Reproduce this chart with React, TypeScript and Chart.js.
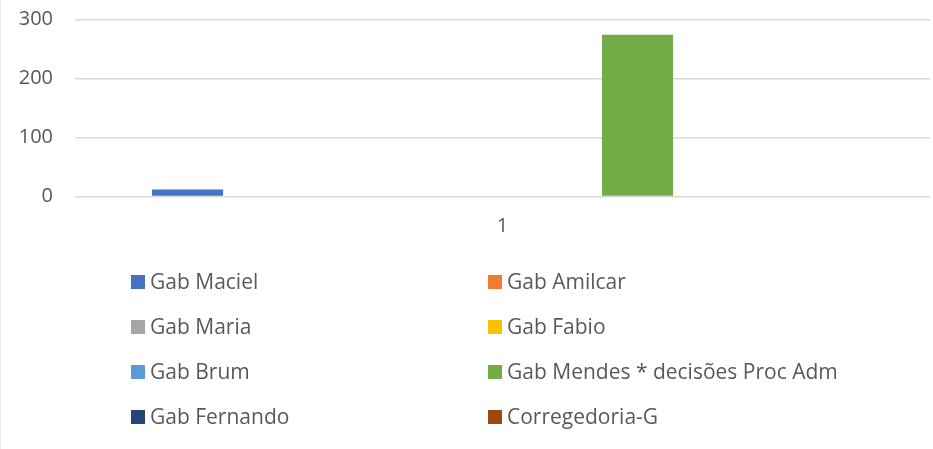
import React, { useEffect, useRef } from "react";
import { Chart, registerables } from "chart.js";

Chart.register(...registerables);

const categories = ["1"];
const seriesNames = [
  "Gab Maciel",
  "Gab Amilcar",
  "Gab Maria",
  "Gab Fabio",
  "Gab Brum",
  "Gab Mendes * decisões Proc Adm",
  "Gab Fernando",
  "Corregedoria-G",
];
const seriesValues = [12, 0, 0, 0, 0, 274, 0, 0];
const seriesColors = [
  "#4472C4",
  "#ED7D31",
  "#A5A5A5",
  "#FFC000",
  "#5B9BD5",
  "#70AD47",
  "#264478",
  "#9E480E",
];
const yTicks = [0, 100, 200, 300];

const FONT = "'Open Sans', 'Noto Sans', sans-serif";
const TEXT = "#595959";

const legendPlugin = {
  id: "gridLegend",
  afterDraw(chart: any) {
    const ctx = chart.ctx;
    ctx.save();
    // faint outer border on the left
    ctx.fillStyle = "#ececec";
    ctx.fillRect(0, 0, 1, chart.height);
    const colX = [131, 488];
    const rowY0 = 282;
    const rowGap = 45;
    const box = 14;
    ctx.font = `21px ${FONT}`;
    ctx.textBaseline = "middle";
    ctx.textAlign = "left";
    chart.data.datasets.forEach((ds: any, i: number) => {
      const col = i % 2;
      const row = Math.floor(i / 2);
      const x = colX[col];
      const y = rowY0 + row * rowGap;
      ctx.fillStyle = ds.backgroundColor;
      ctx.fillRect(x, y - box / 2, box, box);
      ctx.fillStyle = TEXT;
      ctx.fillText(ds.label, x + box + 5, y + 1);
    });
    ctx.restore();
  },
};

export default function App() {
  const ref = useRef<HTMLCanvasElement | null>(null);

  useEffect(() => {
    if (!ref.current) return;
    const chart = new Chart(ref.current, {
      type: "bar",
      data: {
        labels: categories,
        datasets: seriesNames.map((name, i) => ({
          label: name,
          data: [seriesValues[i]],
          backgroundColor: seriesColors[i],
          borderWidth: 0,
          categoryPercentage: 0.842,
          barPercentage: 0.79,
        })),
      },
      options: {
        animation: false,
        responsive: false,
        maintainAspectRatio: false,
        layout: { padding: { top: 19.5, right: 3, bottom: 207.5, left: 0 } },
        plugins: {
          legend: { display: false },
          tooltip: { enabled: false },
        },
        scales: {
          x: {
            grid: { display: false, drawTicks: false },
            border: { display: false },
            ticks: {
              color: TEXT,
              font: { family: FONT, size: 20 },
              padding: 18,
            },
            afterFit(scale: any) {
              scale.height = 45;
              scale.paddingLeft = 0;
              scale.paddingRight = 0;
            },
          },
          y: {
            min: 0,
            max: 300,
            afterBuildTicks(scale: any) {
              scale.ticks = yTicks.map((v) => ({ value: v }));
            },
            grid: {
              color: "#d9d9d9",
              lineWidth: 1.5,
              drawTicks: false,
            },
            border: { display: false },
            ticks: {
              color: TEXT,
              font: { family: FONT, size: 20 },
              padding: 22,
            },
            afterFit(scale: any) {
              scale.width = 75;
              scale.paddingTop = 0;
              scale.paddingBottom = 0;
            },
          },
        },
      },
      plugins: [legendPlugin],
    });
    return () => chart.destroy();
  }, []);

  return (
    <div
      style={{
        position: "fixed",
        left: 0,
        top: 0,
        width: 933,
        height: 449,
        background: "#ffffff",
      }}
    >
      <canvas ref={ref} width={933} height={449} style={{ width: 933, height: 449, display: "block" }} />
    </div>
  );
}
